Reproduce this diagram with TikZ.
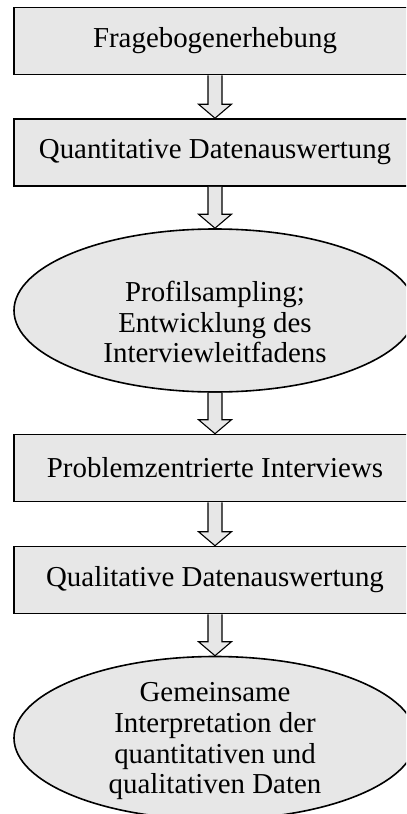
\documentclass[tikz,border=0pt]{standalone}
\usepackage{fontspec}
\setmainfont{Liberation Serif}
\usetikzlibrary{shapes.geometric,calc}
\definecolor{boxgray}{HTML}{E7E7E7}
\tikzset{
  stepbox/.style={rectangle, draw=black, line width=1.6bp, fill=boxgray,
    minimum width=402bp, minimum height=67bp, inner sep=0pt,
    font=\fontsize{29}{31}\selectfont},
  stepoval/.style={ellipse, draw=black, line width=1.6bp, fill=boxgray,
    minimum width=402bp, minimum height=163bp, inner sep=0pt},
  ovaltext/.style={anchor=base, inner sep=0pt, font=\fontsize{29}{31}\selectfont},
  flowarrow/.style={draw=black, line width=1.1bp, fill=boxgray, line join=miter},
}
% hollow block arrow from the bottom of #1 to the top of #2
\newcommand\flowarrow[2]{%
  \filldraw[flowarrow]
    ($(#1.south)+(-7,0)$) -- ($(#2.north)+(-7,-14)$) -- ($(#2.north)+(-16.5,-14)$)
    -- (#2.north) -- ($(#2.north)+(16.5,-14)$) -- ($(#2.north)+(7,-14)$)
    -- ($(#1.south)+(7,0)$);}
\begin{document}
\begin{tikzpicture}[x=1bp,y=-1bp]
  \useasboundingbox (0,0) rectangle (406,814);
  \clip (0,0) rectangle (406,814);

  \node[stepbox] (fb) at (215,41) {Fragebogenerhebung};
  \node[stepbox] (qnt) at (215,152.5) {Quantitative Datenauswertung};
  \node[stepoval] (ps) at (215,310.5) {};
  \node[ovaltext] (psa) at (215,301) {Profilsampling;};
  \node[ovaltext] (psb) at (215,332) {Entwicklung des};
  \node[ovaltext] (psc) at (215,362) {Interviewleitfadens};
  \node[stepbox] (pzi) at (215,468) {Problemzentrierte Interviews};
  \node[stepbox] (qlt) at (215,580) {Qualitative Datenauswertung};
  \node[stepoval] (gi) at (215,738) {};
  \node[ovaltext] (gia) at (215,701) {Gemeinsame};
  \node[ovaltext] (gib) at (215,732) {Interpretation der};
  \node[ovaltext] (gic) at (215,763) {quantitativen und};
  \node[ovaltext] (gid) at (215,793) {qualitativen Daten};

  \flowarrow{fb}{qnt}
  \flowarrow{qnt}{ps}
  \flowarrow{ps}{pzi}
  \flowarrow{pzi}{qlt}
  \flowarrow{qlt}{gi}
\end{tikzpicture}
\end{document}
